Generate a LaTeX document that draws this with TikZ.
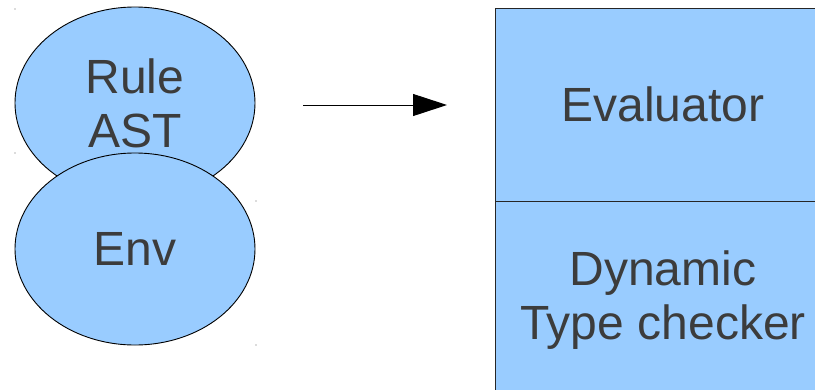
\documentclass[tikz,border=0pt]{standalone}
\usepackage{fontspec}
\setmainfont{Liberation Sans}
\usetikzlibrary{shapes.geometric,arrows.meta}
\definecolor{fillblue}{HTML}{99CCFF}
\definecolor{txt}{HTML}{3C3C3C}
\tikzset{
  blob/.style={ellipse, draw=black, line width=0.9pt, fill=fillblue, minimum width=240pt, minimum height=192pt, inner sep=0pt, text=txt, align=center, font=\fontsize{48}{54}\selectfont},
  part/.style={rectangle, draw=black!85, line width=0.9pt, fill=fillblue, minimum width=336pt, inner sep=0pt, text=txt, align=center, font=\fontsize{48}{54}\selectfont},
  handle/.style={fill=black!60, draw=none, minimum size=1.2pt, inner sep=0pt, circle}
}
\begin{document}
\begin{tikzpicture}[x=1pt,y=-1pt]
\useasboundingbox (0,0) rectangle (815,389);
\clip (0,0) rectangle (815,389);
\node[blob] (rule) at (135,103) {Rule\\AST};
\node[blob] (env) at (135,249) {Env};
\node[part, minimum height=199pt] (check) at (663,300.5) {Dynamic\\Type checker};
\node[part, minimum height=193pt] (eval) at (663,104.5) {Evaluator};
\coordinate (a0) at (303,105);
\coordinate (a1) at (447,105);
\draw[line width=1pt, -{Triangle[length=34pt,width=22pt]}] (a0) -- (a1);
\node[handle] (h1) at (15,9) {};
\node[handle] (h2) at (15,153) {};
\node[handle] (h3) at (256,201) {};
\node[handle] (h4) at (256,345) {};
\end{tikzpicture}
\end{document}
